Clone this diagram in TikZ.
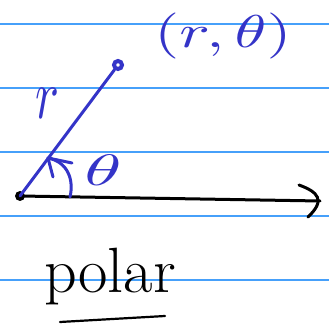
\documentclass[tikz,border=0pt]{standalone}
\usepackage{tikz}
\definecolor{ink}{RGB}{52,52,200}
\definecolor{rule}{RGB}{70,160,250}
\begin{document}
\begin{tikzpicture}[x=1pt,y=-1pt,
  ruleline/.style={draw=rule,line width=1.4pt},
  bluepen/.style={draw=ink,line width=3pt,line cap=round,line join=round},
  blackpen/.style={draw=black,line width=3pt,line cap=round,line join=round},
  bluetext/.style={text=ink,inner sep=0pt},
  blacktext/.style={text=black,inner sep=0pt}]
\useasboundingbox (0,0) rectangle (329,328);
\fill[white] (0,0) rectangle (329,328);
% ruled lines
\foreach \y in {24,88,152,216,280} \draw[ruleline] (0,\y) -- (329,\y);
% axis
\coordinate (O) at (20,196);
\coordinate (E) at (320,201);
\draw[blackpen] (O) -- (E);
\draw[blackpen] (299,185) .. controls (318,192) and (326,200) .. (308,217);
\fill[black] (O) circle (5);
% radius
\node[circle,draw=ink,line width=4pt,minimum size=8pt,inner sep=0pt,fill=white] (P) at (118,65) {};
\draw[bluepen] (O) -- (P);
% angle arc with arrow
\draw[bluepen] (70,197) .. controls (74,180) and (68,162) .. (48,158);
\draw[bluepen] (72,163) -- (48,158) -- (53,177);
% labels
\node[bluetext,xscale=6.4,yscale=4.6] (pt) at (223,36) {$(r,\theta)$};
\node[bluetext,xscale=5,yscale=7] (r) at (47,103) {$r$};
\node[bluetext,xscale=7.5,yscale=4.4] (th) at (103,170) {$\theta$};
\node[blacktext,font=\fontsize{64}{64}\selectfont,anchor=base west] (polar) at (44,293) {polar};
\draw[blackpen,line width=2.2pt] (60,322) -- (165,316);
\end{tikzpicture}
\end{document}
